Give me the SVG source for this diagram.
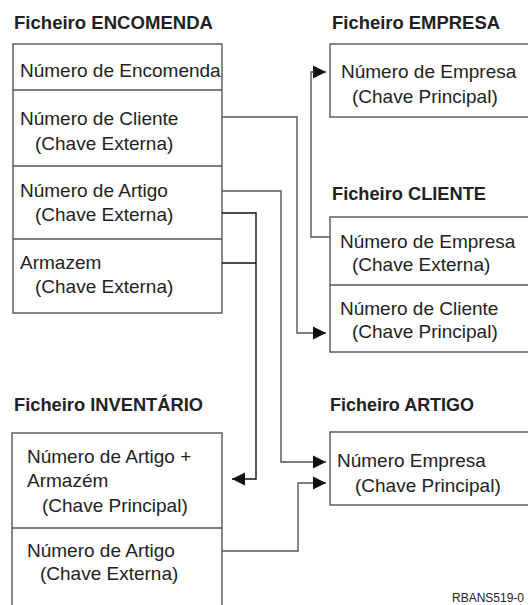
<svg xmlns="http://www.w3.org/2000/svg" width="528" height="605" viewBox="0 0 528 605">
<style>
.t{font-family:"Liberation Sans",Arial,sans-serif;font-size:18.4px;font-weight:bold;fill:#222}
.b{font-family:"Liberation Sans",Arial,sans-serif;font-size:19px;fill:#222}
.box{fill:#fff;stroke:#555;stroke-width:1.4}
.div{stroke:#555;stroke-width:1.4}
.c{fill:none;stroke:#555;stroke-width:1.4}
.k{fill:none;stroke:#111;stroke-width:1.4}
.s{font-family:"Liberation Sans",Arial,sans-serif;font-size:12px;fill:#222}
</style>
<defs>
<marker id="ah" markerUnits="userSpaceOnUse" markerWidth="14" markerHeight="14" viewBox="0 0 14 14" refX="13" refY="7" orient="auto">
<path d="M0,0.5 L13,7 L0,13.5 Z" fill="#111"/>
</marker>
</defs>
<g id="encomenda">
<text class="t" x="14" y="29" textLength="199" lengthAdjust="spacingAndGlyphs">Ficheiro ENCOMENDA</text>
<rect class="box" x="13" y="44" width="209" height="269"/>
<line class="div" x1="13" y1="90" x2="222" y2="90"/>
<line class="div" x1="13" y1="166" x2="222" y2="166"/>
<line class="div" x1="13" y1="239" x2="222" y2="239"/>
<text class="b" x="20" y="77">Número de Encomenda</text>
<text class="b" x="20" y="125">Número de Cliente</text>
<text class="b" x="35" y="150">(Chave Externa)</text>
<text class="b" x="20" y="197">Número de Artigo</text>
<text class="b" x="35" y="221">(Chave Externa)</text>
<text class="b" x="20" y="269">Armazem</text>
<text class="b" x="35" y="293">(Chave Externa)</text>
</g>
<g id="empresa">
<text class="t" x="332" y="29" textLength="168" lengthAdjust="spacingAndGlyphs">Ficheiro EMPRESA</text>
<rect class="box" x="330" y="44" width="230" height="73"/>
<text class="b" x="341" y="78">Número de Empresa</text>
<text class="b" x="352" y="103">(Chave Principal)</text>
</g>
<g id="cliente">
<text class="t" x="332" y="200" textLength="154" lengthAdjust="spacingAndGlyphs">Ficheiro CLIENTE</text>
<rect class="box" x="330" y="217" width="230" height="135"/>
<line class="div" x1="330" y1="285" x2="560" y2="285"/>
<text class="b" x="340" y="248">Número de Empresa</text>
<text class="b" x="352" y="271">(Chave Externa)</text>
<text class="b" x="340" y="315">Número de Cliente</text>
<text class="b" x="352" y="338">(Chave Principal)</text>
</g>
<g id="inventario">
<text class="t" x="14" y="411" textLength="189" lengthAdjust="spacingAndGlyphs">Ficheiro INVENTÁRIO</text>
<rect class="box" x="12" y="433" width="210" height="190"/>
<line class="div" x1="12" y1="528" x2="222" y2="528"/>
<text class="b" x="27" y="463">Número de Artigo +</text>
<text class="b" x="27" y="487">Armazém</text>
<text class="b" x="42" y="512">(Chave Principal)</text>
<text class="b" x="27" y="557">Número de Artigo</text>
<text class="b" x="40" y="580">(Chave Externa)</text>
</g>
<g id="artigo">
<text class="t" x="330" y="411" textLength="144" lengthAdjust="spacingAndGlyphs">Ficheiro ARTIGO</text>
<rect class="box" x="330" y="432" width="230" height="73"/>
<text class="b" x="337" y="467">Número Empresa</text>
<text class="b" x="355" y="492">(Chave Principal)</text>
</g>
<g id="connectors">
<path class="c" d="M222,117 H297 V333 H326" marker-end="url(#ah)"/>
<path class="c" d="M330,237 H311 V72 H326" marker-end="url(#ah)"/>
<path class="c" d="M222,191 H281 V462 H326" marker-end="url(#ah)"/>
<path class="k" d="M222,213 H256 V479 H232" marker-end="url(#ah)"/>
<path class="k" d="M222,263 H256"/>
<path class="c" d="M222,551 H298 V483 H326" marker-end="url(#ah)"/>
</g>
<text class="s" x="452" y="602">RBANS519-0</text>
</svg>
